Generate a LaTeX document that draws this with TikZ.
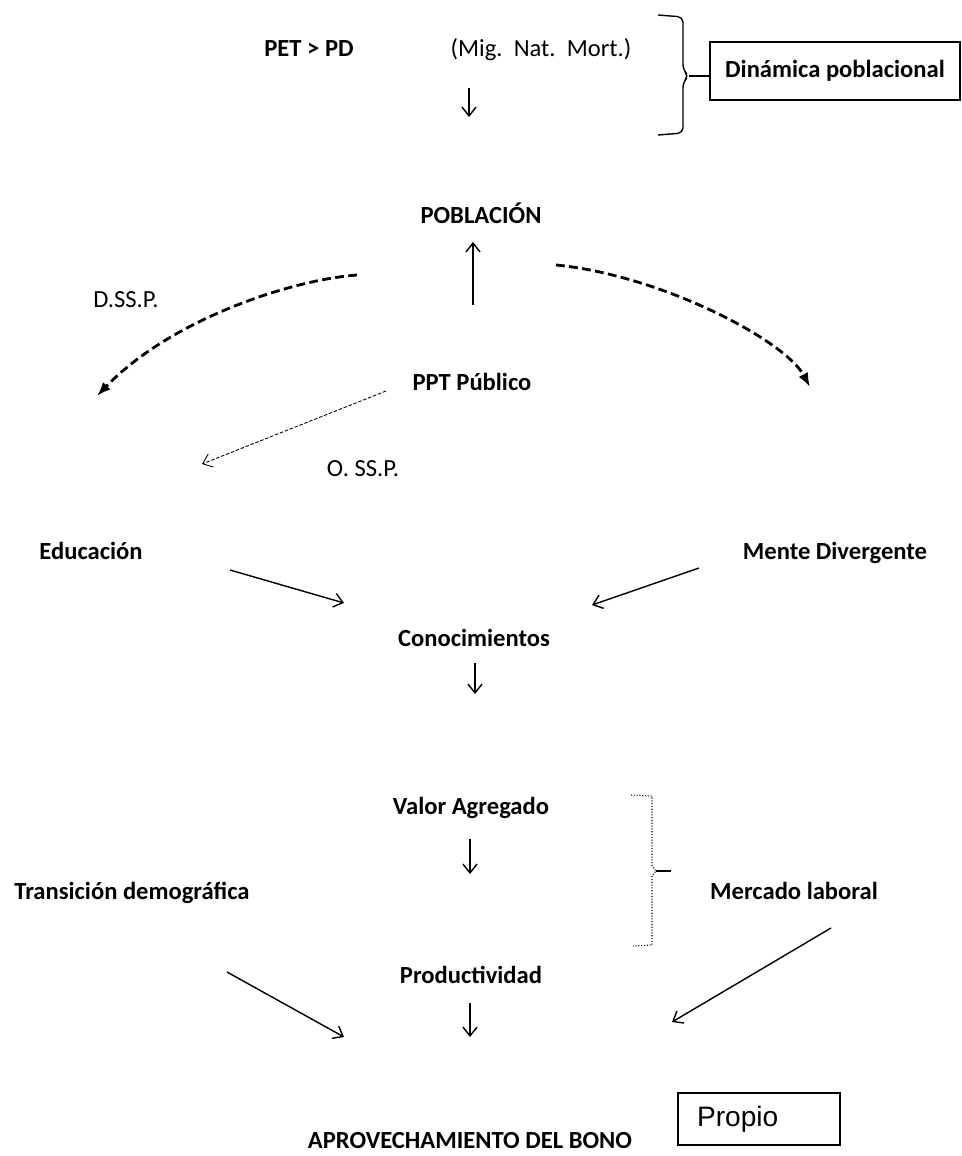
\documentclass[tikz,border=0pt]{standalone}
\usepackage{fontspec}
\setmainfont{Carlito}
\newfontfamily\arialfont{Liberation Sans}
\usepackage{tikz}
\usetikzlibrary{arrows.meta}

\begin{document}
\begin{tikzpicture}[
  x=0.02cm, y=-0.02cm,
  >={Straight Barb[length=5pt,width=8pt]},
  lbl/.style={inner sep=0pt, text height=10pt, text depth=3pt, font=\fontsize{14}{16}\selectfont\bfseries},
  note/.style={inner sep=0pt, text height=10pt, text depth=3pt, font=\fontsize{14}{16}\selectfont},
  flow/.style={->, line width=0.8pt},
  gov/.style={-{Latex[length=8pt,width=6pt]}, line width=1.6pt, dash pattern=on 5pt off 2.5pt},
  link/.style={->, line width=0.5pt, dash pattern=on 2pt off 1pt}
]
  \useasboundingbox (0,0) rectangle (962,1156);

  \node[lbl] (pet) at (309,50) {PET > PD};
  \node[note] (mig) at (541,50) {(Mig.~~Nat.~~Mort.)};
  \node[lbl, draw, line width=0.8pt, minimum width=5cm, inner sep=0pt,
        text height=20pt, text depth=13pt] (dinamica) at (835,71) {Dinámica poblacional};
  \node[lbl] (pob) at (481,217) {POBLACIÓN};
  \node[note] (dssp) at (126,301) {D.SS.P.};
  \node[lbl] (ppt) at (472,384) {PPT Público};
  \node[note] (ossp) at (363,470) {O. SS.P.};
  \node[lbl] (edu) at (91,553) {Educación};
  \node[lbl] (mente) at (835,553) {Mente Divergente};
  \node[lbl] (conoc) at (474,640) {Conocimientos};
  \node[lbl] (valor) at (471,808) {Valor Agregado};
  \node[lbl] (trans) at (132,893) {Transición demográfica};
  \node[lbl] (merc) at (794,893) {Mercado laboral};
  \node[lbl] (prod) at (471,977) {Productividad};
  \node[lbl] (bono) at (470,1142) {APROVECHAMIENTO DEL BONO};
  \node[draw, line width=0.8pt, font=\arialfont\fontsize{16}{18}\selectfont,
        minimum height=1.04cm, text width=2.48cm, inner xsep=0.38cm, align=left] (propio) at (759,1119) {Propio};

  \coordinate (migA) at (469,88);   \coordinate (migB) at (469,117);
  \coordinate (pptA) at (473,305);  \coordinate (pobB) at (473,242);
  \coordinate (dsA) at (357,275);   \coordinate (dsB) at (97,396);
  \coordinate (drA) at (556,265);   \coordinate (drB) at (810,387);
  \coordinate (osA) at (386,391);   \coordinate (osB) at (202,464);
  \coordinate (eduA) at (230,570);  \coordinate (eduB) at (344,603);
  \coordinate (menA) at (699,568);  \coordinate (menB) at (592,605);
  \coordinate (conA) at (475,663);  \coordinate (conB) at (475,694);
  \coordinate (valA) at (470,839);  \coordinate (valB) at (470,874);
  \coordinate (proA) at (470,1003); \coordinate (proB) at (470,1037);
  \coordinate (traA) at (227,972);  \coordinate (traB) at (344,1037);
  \coordinate (merA) at (831,928);  \coordinate (merB) at (672,1022);
  \coordinate (brace) at (689,76);
  \coordinate (bracket) at (656,871);

  \draw[flow] (migA) -- (migB);
  \draw[flow] (pptA) -- (pobB);
  \draw[gov] (dsA) .. controls (290,280) and (170,320) .. (dsB);
  \draw[gov] (drA) .. controls (660,275) and (785,340) .. (drB);
  \draw[link] (osA) -- (osB);
  \draw[flow] (eduA) -- (eduB);
  \draw[flow] (menA) -- (menB);
  \draw[flow] (conA) -- (conB);
  \draw[flow] (valA) -- (valB);
  \draw[flow] (proA) -- (proB);
  \draw[flow] (traA) -- (traB);
  \draw[flow] (merA) -- (merB);

  \draw[line width=0.8pt, rounded corners=3pt] (658,15) -- (683,17) -- (683,70) -- (brace) -- (683,82) -- (683,133) -- (658,135);
  \draw[line width=0.8pt] (brace) -- (brace -| dinamica.west);
  \draw[line width=0.6pt, densely dotted] (631,795) -- (652,796) -- (652,866) -- (bracket) -- (652,876) -- (652,945) -- (633,946);
  \draw[line width=0.6pt] (bracket) -- (671,871);
\end{tikzpicture}
\end{document}
